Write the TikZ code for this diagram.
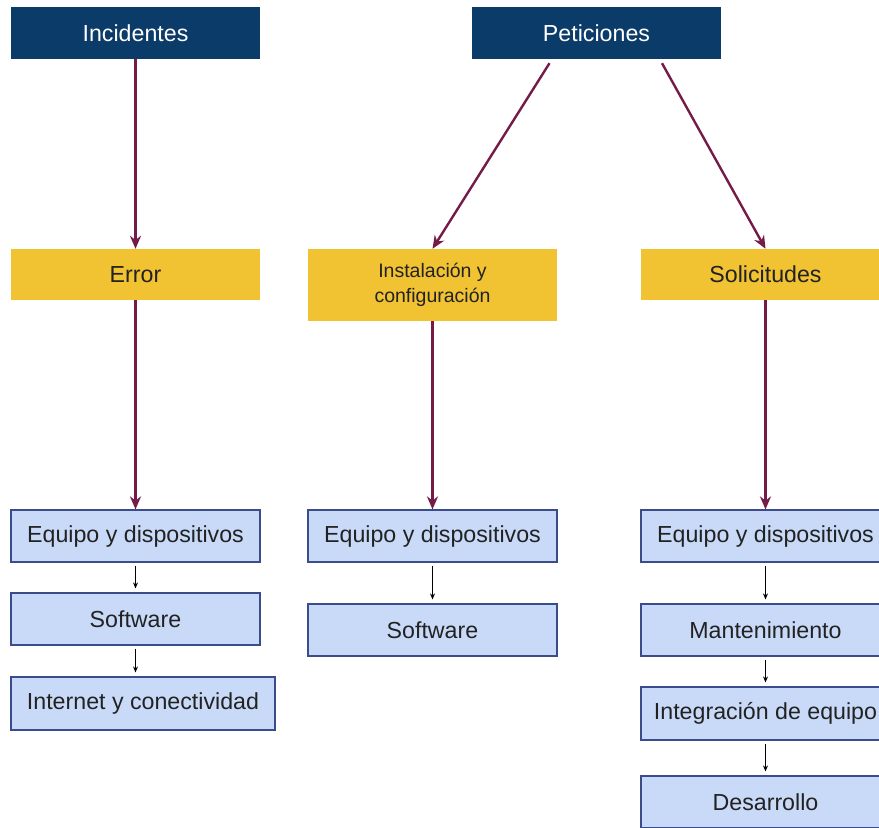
\documentclass[tikz,border=0pt]{standalone}
\usepackage{fontspec}
\setmainfont{Liberation Sans}
\usetikzlibrary{arrows.meta}

\definecolor{navy}{HTML}{0B3B68}
\definecolor{gold}{HTML}{F1C232}
\definecolor{paleblue}{HTML}{C9DAF8}
\definecolor{boxedge}{HTML}{3A4C8C}
\definecolor{plum}{HTML}{741B47}
\definecolor{ink}{HTML}{222222}

\begin{document}
\begin{tikzpicture}[x=1pt,y=-1pt,
  headbox/.style={fill=navy, text=white, minimum width=249pt, minimum height=52pt,
    inner sep=0pt, font=\fontsize{23.2}{27}\selectfont},
  catbox/.style={fill=gold, text=ink, minimum width=249pt, minimum height=51pt,
    inner sep=0pt, font=\fontsize{23.2}{27}\selectfont, align=center},
  itembox/.style={fill=paleblue, draw=boxedge, line width=1.2pt, text=ink,
    minimum width=249pt, minimum height=52pt, inner sep=0pt,
    font=\fontsize{23.2}{27}\selectfont},
  mainlink/.style={draw=plum, line width=2.4pt, -{Stealth[length=13pt,width=11pt]}},
  sublink/.style={draw=black, line width=1.1pt, -{Stealth[length=6pt,width=5pt]},
    shorten <=3pt, shorten >=4pt}
]
\useasboundingbox (0,0) rectangle (879,828);
\clip (0,0) rectangle (879,828);

% top-level categories
\node[headbox] (inc) at (135.5,33) {Incidentes};
\node[headbox] (pet) at (596.5,33) {Peticiones};

% second level
\node[catbox] (err) at (135.5,274.5) {Error};
\node[catbox, minimum height=72pt, font=\fontsize{19.5}{25}\selectfont] (ins) at (432.5,285)
  {Instalación y\\configuración};
\node[catbox] (sol) at (765.5,274.5) {Solicitudes};

% items under Error
\node[itembox] (e1) at (135.5,536) {Equipo y dispositivos};
\node[itembox] (e2) at (135.5,619) {Software};
\node[itembox, minimum width=264pt, minimum height=53pt] (e3) at (143,703.5) {Internet y conectividad};

% items under Instalación y configuración
\node[itembox] (i1) at (432.5,536) {Equipo y dispositivos};
\node[itembox] (i2) at (432.5,630) {Software};

% items under Solicitudes
\node[itembox] (s1) at (765.5,536) {Equipo y dispositivos};
\node[itembox] (s2) at (765.5,630) {Mantenimiento};
\node[itembox, minimum height=53pt] (s3) at (765.5,713.5) {Integración de equipo};
\node[itembox] (s4) at (765.5,802) {Desarrollo};

% main connectors
\draw[mainlink] (inc.south) -- (err.north);
\draw[mainlink] ([xshift=-47pt,yshift=-4pt]pet.south) -- (ins.north);
\draw[mainlink] ([xshift=65.5pt,yshift=-4pt]pet.south) -- (sol.north);
\draw[mainlink] (err.south) -- (e1.north);
\draw[mainlink] (ins.south) -- (i1.north);
\draw[mainlink] (sol.south) -- (s1.north);

% chains of items
\draw[sublink] (e1.south) -- (e2.north);
\draw[sublink] (e2.south) -- (e2.south |- e3.north);
\draw[sublink] (i1.south) -- (i2.north);
\draw[sublink] (s1.south) -- (s2.north);
\draw[sublink] (s2.south) -- (s3.north);
\draw[sublink] (s3.south) -- (s4.north);
\end{tikzpicture}
\end{document}
